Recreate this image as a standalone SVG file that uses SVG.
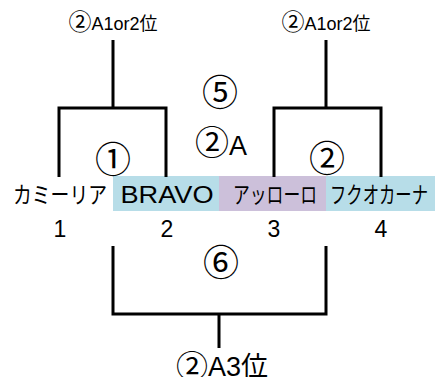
<svg xmlns="http://www.w3.org/2000/svg" width="435" height="377" viewBox="0 0 435 377">
<style>
.t{font-family:"Liberation Sans","Noto Sans CJK JP",sans-serif;fill:#000;text-anchor:middle}
.j{font-family:"Noto Sans CJK JP",sans-serif;fill:#000;text-anchor:middle;font-size:23px}
.c{font-family:"Noto Sans CJK JP",sans-serif;fill:#000;text-anchor:middle;font-size:36px}
.cc{font-family:"Noto Sans CJK JP",sans-serif}
.ln{fill:none;stroke:#000;stroke-width:3}
</style>
<rect width="435" height="377" fill="#fff"/>
<g id="cells">
<rect x="113" y="176" width="106" height="35" fill="#b7dde8"/>
<rect x="219" y="176" width="107" height="35" fill="#ccc0da"/>
<rect x="326" y="176" width="109" height="35" fill="#b7dde8"/>
</g>
<g id="connectors">
<path class="ln" d="M113,40V108M59,177V108H166V177"/>
<path class="ln" d="M326,40V108M274,177V108H381V177"/>
<path class="ln" d="M113,246V314H326V246M219,314V348"/>
</g>
<g id="team1"><text class="j" x="60" y="203" textLength="94" lengthAdjust="spacingAndGlyphs">カミーリア</text><text class="t" x="60" y="237" font-size="23">1</text></g>
<g id="team2"><text class="t" x="167" y="203" font-size="24" textLength="93" lengthAdjust="spacingAndGlyphs">BRAVO</text><text class="t" x="167" y="237" font-size="23">2</text></g>
<g id="team3"><text class="j" x="275" y="203" textLength="84" lengthAdjust="spacingAndGlyphs">アッローロ</text><text class="t" x="274" y="237" font-size="23">3</text></g>
<g id="team4"><text class="j" x="379" y="203" textLength="98" lengthAdjust="spacingAndGlyphs">フクオカーナ</text><text class="t" x="381" y="237" font-size="23">4</text></g>
<g id="labels">
<text class="t" x="113" y="30" font-size="18"><tspan class="cc" font-size="23">②</tspan>A1or2位</text>
<text class="t" x="326" y="30" font-size="18"><tspan class="cc" font-size="23">②</tspan>A1or2位</text>
<text class="c" x="220" y="106">⑤</text>
<text class="t" x="221" y="155" font-size="27"><tspan class="cc" font-size="34">②</tspan>A</text>
<text class="c" x="113" y="173">①</text>
<text class="c" x="327" y="172">②</text>
<text class="c" x="221" y="276">⑥</text>
<text class="t" x="222" y="376" font-size="27"><tspan class="cc" font-size="32" dy="2">②</tspan><tspan dy="-2">A3位</tspan></text>
</g>
</svg>
